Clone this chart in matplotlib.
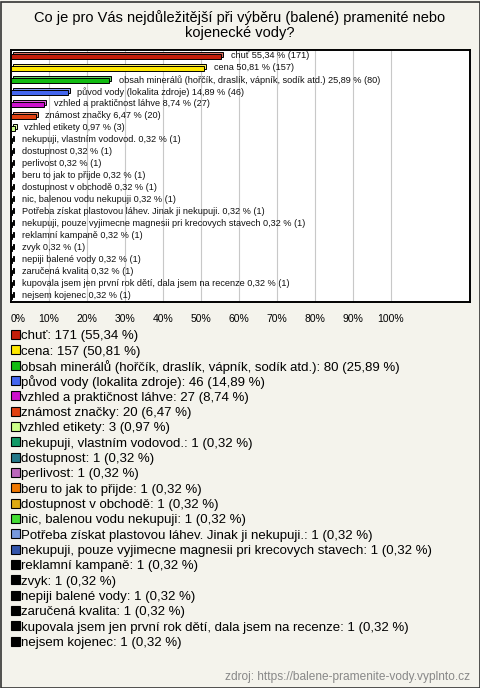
import matplotlib
matplotlib.use("Agg")
import matplotlib.pyplot as plt
from matplotlib.patches import Rectangle
import matplotlib.colors as mc

plt.rcParams['font.family'] = ['Liberation Sans', 'DejaVu Sans']

title = "Co je pro Vás nejdůležitější při výběru (balené) pramenité nebo\nkojenecké vody?"
categories = [
    "chuť", "cena", "obsah minerálů (hořčík, draslík, vápník, sodík atd.)",
    "původ vody (lokalita zdroje)", "vzhled a praktičnost láhve", "známost značky",
    "vzhled etikety", "nekupuji, vlastním vodovod.", "dostupnost", "perlivost",
    "beru to jak to přijde", "dostupnost v obchodě", "nic, balenou vodu nekupuji",
    "Potřeba získat plastovou láhev. Jinak ji nekupuji.",
    "nekupuji, pouze vyjimecne magnesii pri krecovych stavech",
    "reklamní kampaně", "zvyk", "nepiji balené vody", "zaručená kvalita",
    "kupovala jsem jen první rok dětí, dala jsem na recenze", "nejsem kojenec",
]
counts = [171, 157, 80, 46, 27, 20, 3, 1, 1, 1, 1, 1, 1, 1, 1, 1, 1, 1, 1, 1, 1]
percents = [55.34, 50.81, 25.89, 14.89, 8.74, 6.47, 0.97, 0.32, 0.32, 0.32, 0.32,
            0.32, 0.32, 0.32, 0.32, 0.32, 0.32, 0.32, 0.32, 0.32, 0.32]
colors = ["#C41E0A", "#FFE800", "#11BB11", "#4466EE", "#CC11CC", "#E04010",
          "#CCFF88", "#119966", "#227788", "#BB66BB", "#EE7700", "#DDAA11",
          "#44DD33", "#7799DD", "#3355AA", "#000000", "#000000", "#000000",
          "#000000", "#000000", "#000000"]
xticks = [0, 10, 20, 30, 40, 50, 60, 70, 80, 90, 100]
source = "zdroj: https://balene-pramenite-vody.vyplnto.cz"

W, H = 480, 688
bg = "#F4F3EC"
fig = plt.figure(figsize=(W / 100, H / 100), dpi=100, facecolor=bg)

def fx(px):
    return px / W

def fy(py):
    return 1 - py / H

# outer border
fig.add_artist(Rectangle((fx(0.5), fy(687.5)), fx(479), 686 / H, fill=False,
                         edgecolor="#333333", linewidth=1.2, transform=fig.transFigure))

fig.text(0.5, fy(25), title, ha="center", va="center", fontsize=10.5,
         linespacing=1.15, color="#000000")

ax = fig.add_axes([fx(11), fy(302), fx(470 - 11), (302 - 50) / H])
ax.set_facecolor("white")
n = len(categories)
ax.set_xlim(0, 120.9)
ax.set_ylim(n - 1 + 0.45, -0.52)
for t in xticks[1:]:
    ax.axvline(t, color="#C8C8C8", linewidth=0.8, zorder=0)

ys = list(range(n))
h = 0.42
dx, dy = 0.55, 0.17

def lighten(c, f=0.35):
    r, g, b = mc.to_rgb(c)
    return (r + (1 - r) * f, g + (1 - g) * f, b + (1 - b) * f)

ax.barh([y - dy for y in ys], percents, left=dx, height=h, color=[lighten(c) for c in colors],
        edgecolor="black", linewidth=0.7, zorder=2)
ax.barh(ys, percents, height=h, color=colors, edgecolor="black", linewidth=0.7, zorder=3)
for y, cat, p, cnt in zip(ys, categories, percents, counts):
    ps = f"{p:.2f}".replace(".", ",")
    ax.text(p + dx + 2.0, y - 0.05, f"{cat} {ps} % ({cnt})", va="center", ha="left",
            fontsize=6.6, color="#111111", zorder=4)

ax.set_xticks(xticks)
ax.set_xticklabels([f"{t}%" for t in xticks], fontsize=7.5)
ax.tick_params(axis="x", length=0, pad=9)
ax.get_xticklabels()[0].set_horizontalalignment("left")
ax.set_yticks([])
for s in ax.spines.values():
    s.set_linewidth(1.4)
    s.set_color("black")

# legend
y0, step = 336.5, 15.33
for i, (cat, cnt, p, c) in enumerate(zip(categories, counts, percents, colors)):
    yc = y0 + i * step
    fig.add_artist(Rectangle((fx(10.5), fy(yc + 2.5)), fx(9), 9 / H, facecolor=c,
                             edgecolor="black", linewidth=0.8, transform=fig.transFigure))
    ps = f"{p:.2f}".replace(".", ",")
    fig.text(fx(21), fy(yc), f"{cat}: {cnt} ({ps} %)", ha="left", va="center",
             fontsize=9.5, color="#000000")

fig.text(fx(470), fy(677), source, ha="right", va="center", fontsize=8.6, color="#888888")

fig.savefig("out.png", dpi=100, facecolor=bg)
